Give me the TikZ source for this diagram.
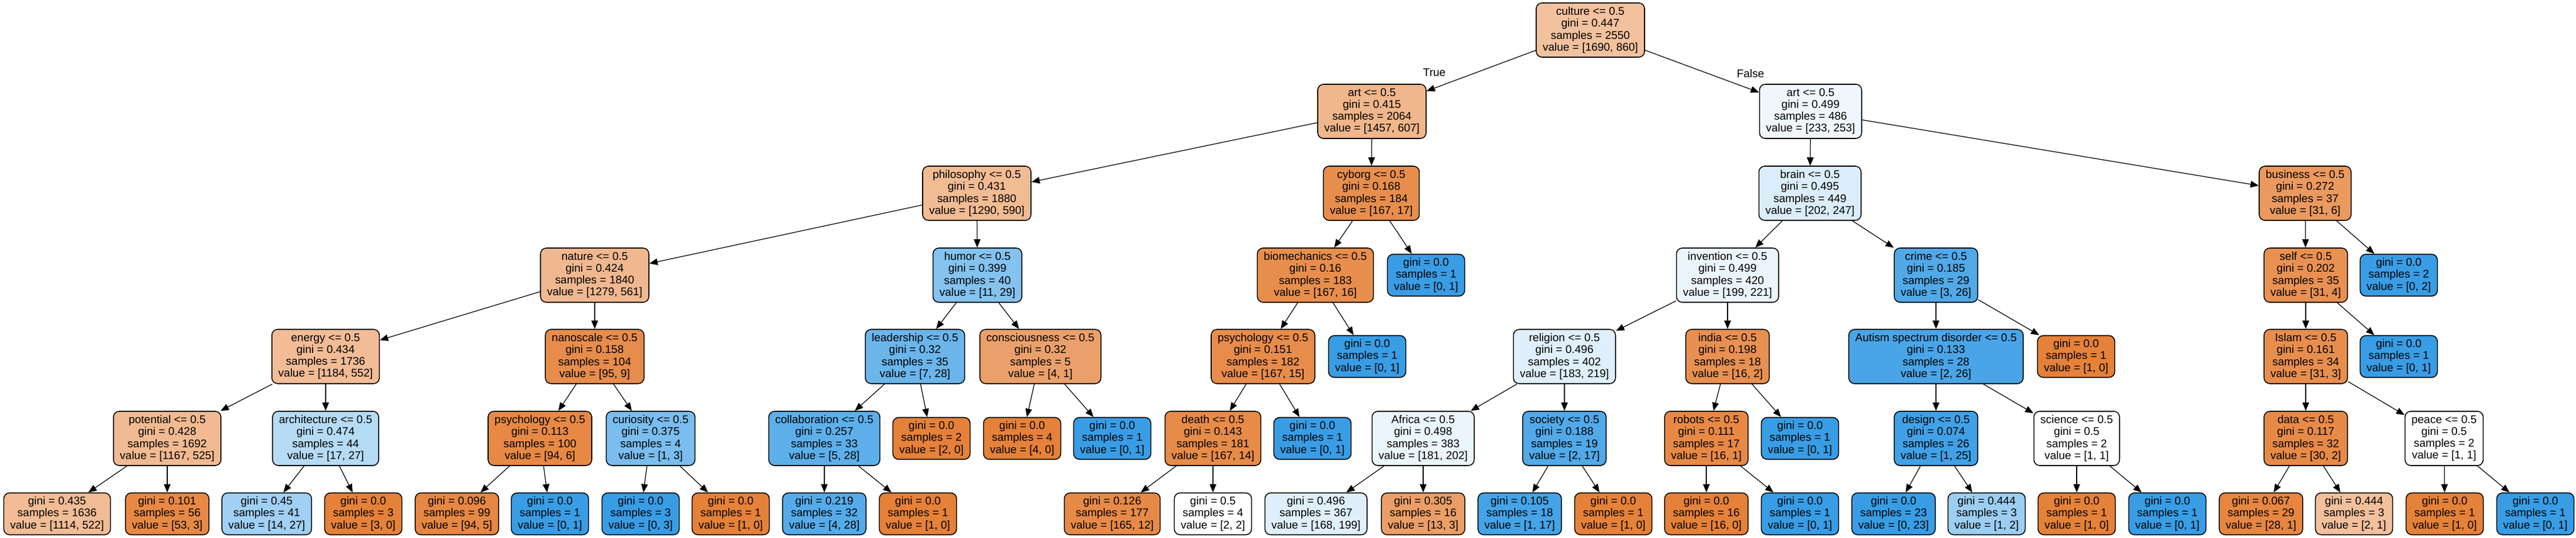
\documentclass[tikz,border=0pt]{standalone}
\usepackage{fontspec}
\setmainfont{Liberation Sans}
\usepackage{tikz}
\usetikzlibrary{arrows.meta}
\definecolor{cls0}{HTML}{E58139}
\definecolor{cls1}{HTML}{399DE5}

\begin{document}
\begin{tikzpicture}[
	testbox/.style={draw, rounded corners=2.8pt, line width=0.45pt, minimum height=0.92cm, inner xsep=0.11cm, inner ysep=0pt, align=center, font=\fontsize{5.4pt}{5.75pt}\selectfont},
	leafbox/.style={testbox, minimum height=0.71cm},
	branch/.style={line width=0.35pt, -{Triangle[length=4pt,width=3.2pt]}}]
	\useasboundingbox (0,0) rectangle (43.75,-9.13);
	\node[testbox, fill=cls0!49] (culture) at (27.01,-0.51) {culture <= 0.5\\gini = 0.447\\samples = 2550\\value = [1690, 860]};
	\node[testbox, fill=cls0!58] (artL) at (23.30,-1.89) {art <= 0.5\\gini = 0.415\\samples = 2064\\value = [1457, 607]};
	\node[testbox, fill=cls1!8] (artR) at (30.75,-1.89) {art <= 0.5\\gini = 0.499\\samples = 486\\value = [233, 253]};
	\node[font=\fontsize{5.4pt}{5.75pt}\selectfont] (truelbl) at (24.36,-1.23) {True};
	\node[font=\fontsize{5.4pt}{5.75pt}\selectfont] (falselbl) at (29.73,-1.25) {False};
	\node[testbox, fill=cls0!54] (philosophy) at (16.59,-3.28) {philosophy <= 0.5\\gini = 0.431\\samples = 1880\\value = [1290, 590]};
	\node[testbox, fill=cls0!90] (cyborg) at (23.29,-3.28) {cyborg <= 0.5\\gini = 0.168\\samples = 184\\value = [167, 17]};
	\node[testbox, fill=cls1!18] (brain) at (30.74,-3.28) {brain <= 0.5\\gini = 0.495\\samples = 449\\value = [202, 247]};
	\node[testbox, fill=cls0!81] (business) at (39.15,-3.28) {business <= 0.5\\gini = 0.272\\samples = 37\\value = [31, 6]};
	\node[testbox, fill=cls0!56] (nature) at (10.10,-4.67) {nature <= 0.5\\gini = 0.424\\samples = 1840\\value = [1279, 561]};
	\node[testbox, fill=cls1!62] (humor) at (16.60,-4.67) {humor <= 0.5\\gini = 0.399\\samples = 40\\value = [11, 29]};
	\node[testbox, fill=cls0!90] (biomech) at (22.34,-4.67) {biomechanics <= 0.5\\gini = 0.16\\samples = 183\\value = [167, 16]};
	\node[leafbox, fill=cls1] (cybleaf) at (24.22,-4.67) {gini = 0.0\\samples = 1\\value = [0, 1]};
	\node[testbox, fill=cls1!10] (invention) at (29.34,-4.67) {invention <= 0.5\\gini = 0.499\\samples = 420\\value = [199, 221]};
	\node[testbox, fill=cls1!88] (crime) at (32.88,-4.67) {crime <= 0.5\\gini = 0.185\\samples = 29\\value = [3, 26]};
	\node[testbox, fill=cls0!87] (self) at (39.16,-4.67) {self <= 0.5\\gini = 0.202\\samples = 35\\value = [31, 4]};
	\node[leafbox, fill=cls1] (busleaf) at (40.74,-4.67) {gini = 0.0\\samples = 2\\value = [0, 2]};
	\node[testbox, fill=cls0!53] (energy) at (5.53,-6.05) {energy <= 0.5\\gini = 0.434\\samples = 1736\\value = [1184, 552]};
	\node[testbox, fill=cls0!91] (nanoscale) at (10.10,-6.05) {nanoscale <= 0.5\\gini = 0.158\\samples = 104\\value = [95, 9]};
	\node[testbox, fill=cls1!75] (leadership) at (15.54,-6.05) {leadership <= 0.5\\gini = 0.32\\samples = 35\\value = [7, 28]};
	\node[testbox, fill=cls0!75] (consciousness) at (17.67,-6.05) {consciousness <= 0.5\\gini = 0.32\\samples = 5\\value = [4, 1]};
	\node[testbox, fill=cls0!91] (psychA) at (21.45,-6.05) {psychology <= 0.5\\gini = 0.151\\samples = 182\\value = [167, 15]};
	\node[leafbox, fill=cls1] (bioleaf) at (23.22,-6.05) {gini = 0.0\\samples = 1\\value = [0, 1]};
	\node[testbox, fill=cls1!16] (religion) at (26.57,-6.05) {religion <= 0.5\\gini = 0.496\\samples = 402\\value = [183, 219]};
	\node[testbox, fill=cls0!88] (india) at (29.34,-6.05) {india <= 0.5\\gini = 0.198\\samples = 18\\value = [16, 2]};
	\node[testbox, fill=cls1!92] (autism) at (32.88,-6.05) {Autism spectrum disorder <= 0.5\\gini = 0.133\\samples = 28\\value = [2, 26]};
	\node[leafbox, fill=cls0] (crimeleaf) at (35.26,-6.05) {gini = 0.0\\samples = 1\\value = [1, 0]};
	\node[testbox, fill=cls0!90] (islam) at (39.16,-6.05) {Islam <= 0.5\\gini = 0.161\\samples = 34\\value = [31, 3]};
	\node[leafbox, fill=cls1] (selfleaf) at (40.74,-6.05) {gini = 0.0\\samples = 1\\value = [0, 1]};
	\node[testbox, fill=cls0!55] (potential) at (2.84,-7.44) {potential <= 0.5\\gini = 0.428\\samples = 1692\\value = [1167, 525]};
	\node[testbox, fill=cls1!37] (architecture) at (5.53,-7.44) {architecture <= 0.5\\gini = 0.474\\samples = 44\\value = [17, 27]};
	\node[testbox, fill=cls0!94] (psychB) at (9.17,-7.44) {psychology <= 0.5\\gini = 0.113\\samples = 100\\value = [94, 6]};
	\node[testbox, fill=cls1!67] (curiosity) at (11.05,-7.44) {curiosity <= 0.5\\gini = 0.375\\samples = 4\\value = [1, 3]};
	\node[testbox, fill=cls1!82] (collaboration) at (14.00,-7.44) {collaboration <= 0.5\\gini = 0.257\\samples = 33\\value = [5, 28]};
	\node[leafbox, fill=cls0] (leadleaf) at (15.82,-7.44) {gini = 0.0\\samples = 2\\value = [2, 0]};
	\node[leafbox, fill=cls0] (consleafA) at (17.36,-7.44) {gini = 0.0\\samples = 4\\value = [4, 0]};
	\node[leafbox, fill=cls1] (consleafB) at (18.89,-7.44) {gini = 0.0\\samples = 1\\value = [0, 1]};
	\node[testbox, fill=cls0!92] (death) at (20.60,-7.44) {death <= 0.5\\gini = 0.143\\samples = 181\\value = [167, 14]};
	\node[leafbox, fill=cls1] (psychleaf) at (22.29,-7.44) {gini = 0.0\\samples = 1\\value = [0, 1]};
	\node[testbox, fill=cls1!10] (africa) at (24.17,-7.44) {Africa <= 0.5\\gini = 0.498\\samples = 383\\value = [181, 202]};
	\node[testbox, fill=cls1!88] (society) at (26.57,-7.44) {society <= 0.5\\gini = 0.188\\samples = 19\\value = [2, 17]};
	\node[testbox, fill=cls0!94] (robots) at (28.98,-7.44) {robots <= 0.5\\gini = 0.111\\samples = 17\\value = [16, 1]};
	\node[leafbox, fill=cls1] (indialeaf) at (30.57,-7.44) {gini = 0.0\\samples = 1\\value = [0, 1]};
	\node[testbox, fill=cls1!96] (design) at (32.88,-7.44) {design <= 0.5\\gini = 0.074\\samples = 26\\value = [1, 25]};
	\node[testbox, fill=white] (science) at (35.27,-7.44) {science <= 0.5\\gini = 0.5\\samples = 2\\value = [1, 1]};
	\node[testbox, fill=cls0!93] (data) at (39.16,-7.44) {data <= 0.5\\gini = 0.117\\samples = 32\\value = [30, 2]};
	\node[testbox, fill=white] (peace) at (41.51,-7.44) {peace <= 0.5\\gini = 0.5\\samples = 2\\value = [1, 1]};
	\node[leafbox, fill=cls0!53] (potA) at (0.97,-8.72) {gini = 0.435\\samples = 1636\\value = [1114, 522]};
	\node[leafbox, fill=cls0!94] (potB) at (2.84,-8.72) {gini = 0.101\\samples = 56\\value = [53, 3]};
	\node[leafbox, fill=cls1!48] (archA) at (4.53,-8.72) {gini = 0.45\\samples = 41\\value = [14, 27]};
	\node[leafbox, fill=cls0] (archB) at (6.17,-8.72) {gini = 0.0\\samples = 3\\value = [3, 0]};
	\node[leafbox, fill=cls0!95] (psbA) at (7.76,-8.72) {gini = 0.096\\samples = 99\\value = [94, 5]};
	\node[leafbox, fill=cls1] (psbB) at (9.34,-8.72) {gini = 0.0\\samples = 1\\value = [0, 1]};
	\node[leafbox, fill=cls1] (curA) at (10.88,-8.72) {gini = 0.0\\samples = 3\\value = [0, 3]};
	\node[leafbox, fill=cls0] (curB) at (12.41,-8.72) {gini = 0.0\\samples = 1\\value = [1, 0]};
	\node[leafbox, fill=cls1!86] (colA) at (14.00,-8.72) {gini = 0.219\\samples = 32\\value = [4, 28]};
	\node[leafbox, fill=cls0] (colB) at (15.59,-8.72) {gini = 0.0\\samples = 1\\value = [1, 0]};
	\node[leafbox, fill=cls0!93] (deathA) at (18.89,-8.72) {gini = 0.126\\samples = 177\\value = [165, 12]};
	\node[leafbox, fill=white] (deathB) at (20.60,-8.72) {gini = 0.5\\samples = 4\\value = [2, 2]};
	\node[leafbox, fill=cls1!16] (afrA) at (22.35,-8.72) {gini = 0.496\\samples = 367\\value = [168, 199]};
	\node[leafbox, fill=cls0!77] (afrB) at (24.17,-8.72) {gini = 0.305\\samples = 16\\value = [13, 3]};
	\node[leafbox, fill=cls1!94] (socA) at (25.81,-8.72) {gini = 0.105\\samples = 18\\value = [1, 17]};
	\node[leafbox, fill=cls0] (socB) at (27.40,-8.72) {gini = 0.0\\samples = 1\\value = [1, 0]};
	\node[leafbox, fill=cls0] (robA) at (28.98,-8.72) {gini = 0.0\\samples = 16\\value = [16, 0]};
	\node[leafbox, fill=cls1] (robB) at (30.57,-8.72) {gini = 0.0\\samples = 1\\value = [0, 1]};
	\node[leafbox, fill=cls1] (desA) at (32.16,-8.72) {gini = 0.0\\samples = 23\\value = [0, 23]};
	\node[leafbox, fill=cls1!50] (desB) at (33.74,-8.72) {gini = 0.444\\samples = 3\\value = [1, 2]};
	\node[leafbox, fill=cls0] (sciA) at (35.27,-8.72) {gini = 0.0\\samples = 1\\value = [1, 0]};
	\node[leafbox, fill=cls1] (sciB) at (36.81,-8.72) {gini = 0.0\\samples = 1\\value = [0, 1]};
	\node[leafbox, fill=cls0!96] (datA) at (38.40,-8.72) {gini = 0.067\\samples = 29\\value = [28, 1]};
	\node[leafbox, fill=cls0!50] (datB) at (39.98,-8.72) {gini = 0.444\\samples = 3\\value = [2, 1]};
	\node[leafbox, fill=cls0] (peaA) at (41.52,-8.72) {gini = 0.0\\samples = 1\\value = [1, 0]};
	\node[leafbox, fill=cls1] (peaB) at (43.06,-8.72) {gini = 0.0\\samples = 1\\value = [0, 1]};
	\draw[branch] (culture) -- (artL);
	\draw[branch] (culture) -- (artR);
	\draw[branch] (artL) -- (philosophy);
	\draw[branch] (artL) -- (cyborg);
	\draw[branch] (artR) -- (brain);
	\draw[branch] (artR) -- (business);
	\draw[branch] (philosophy) -- (nature);
	\draw[branch] (philosophy) -- (humor);
	\draw[branch] (cyborg) -- (biomech);
	\draw[branch] (cyborg) -- (cybleaf);
	\draw[branch] (brain) -- (invention);
	\draw[branch] (brain) -- (crime);
	\draw[branch] (business) -- (self);
	\draw[branch] (business) -- (busleaf);
	\draw[branch] (nature) -- (energy);
	\draw[branch] (nature) -- (nanoscale);
	\draw[branch] (humor) -- (leadership);
	\draw[branch] (humor) -- (consciousness);
	\draw[branch] (biomech) -- (psychA);
	\draw[branch] (biomech) -- (bioleaf);
	\draw[branch] (invention) -- (religion);
	\draw[branch] (invention) -- (india);
	\draw[branch] (crime) -- (autism);
	\draw[branch] (crime) -- (crimeleaf);
	\draw[branch] (self) -- (islam);
	\draw[branch] (self) -- (selfleaf);
	\draw[branch] (energy) -- (potential);
	\draw[branch] (energy) -- (architecture);
	\draw[branch] (nanoscale) -- (psychB);
	\draw[branch] (nanoscale) -- (curiosity);
	\draw[branch] (leadership) -- (collaboration);
	\draw[branch] (leadership) -- (leadleaf);
	\draw[branch] (consciousness) -- (consleafA);
	\draw[branch] (consciousness) -- (consleafB);
	\draw[branch] (psychA) -- (death);
	\draw[branch] (psychA) -- (psychleaf);
	\draw[branch] (religion) -- (africa);
	\draw[branch] (religion) -- (society);
	\draw[branch] (india) -- (robots);
	\draw[branch] (india) -- (indialeaf);
	\draw[branch] (autism) -- (design);
	\draw[branch] (autism) -- (science);
	\draw[branch] (islam) -- (data);
	\draw[branch] (islam) -- (peace);
	\draw[branch] (potential) -- (potA);
	\draw[branch] (potential) -- (potB);
	\draw[branch] (architecture) -- (archA);
	\draw[branch] (architecture) -- (archB);
	\draw[branch] (psychB) -- (psbA);
	\draw[branch] (psychB) -- (psbB);
	\draw[branch] (curiosity) -- (curA);
	\draw[branch] (curiosity) -- (curB);
	\draw[branch] (collaboration) -- (colA);
	\draw[branch] (collaboration) -- (colB);
	\draw[branch] (death) -- (deathA);
	\draw[branch] (death) -- (deathB);
	\draw[branch] (africa) -- (afrA);
	\draw[branch] (africa) -- (afrB);
	\draw[branch] (society) -- (socA);
	\draw[branch] (society) -- (socB);
	\draw[branch] (robots) -- (robA);
	\draw[branch] (robots) -- (robB);
	\draw[branch] (design) -- (desA);
	\draw[branch] (design) -- (desB);
	\draw[branch] (science) -- (sciA);
	\draw[branch] (science) -- (sciB);
	\draw[branch] (data) -- (datA);
	\draw[branch] (data) -- (datB);
	\draw[branch] (peace) -- (peaA);
	\draw[branch] (peace) -- (peaB);
\end{tikzpicture}
\end{document}
